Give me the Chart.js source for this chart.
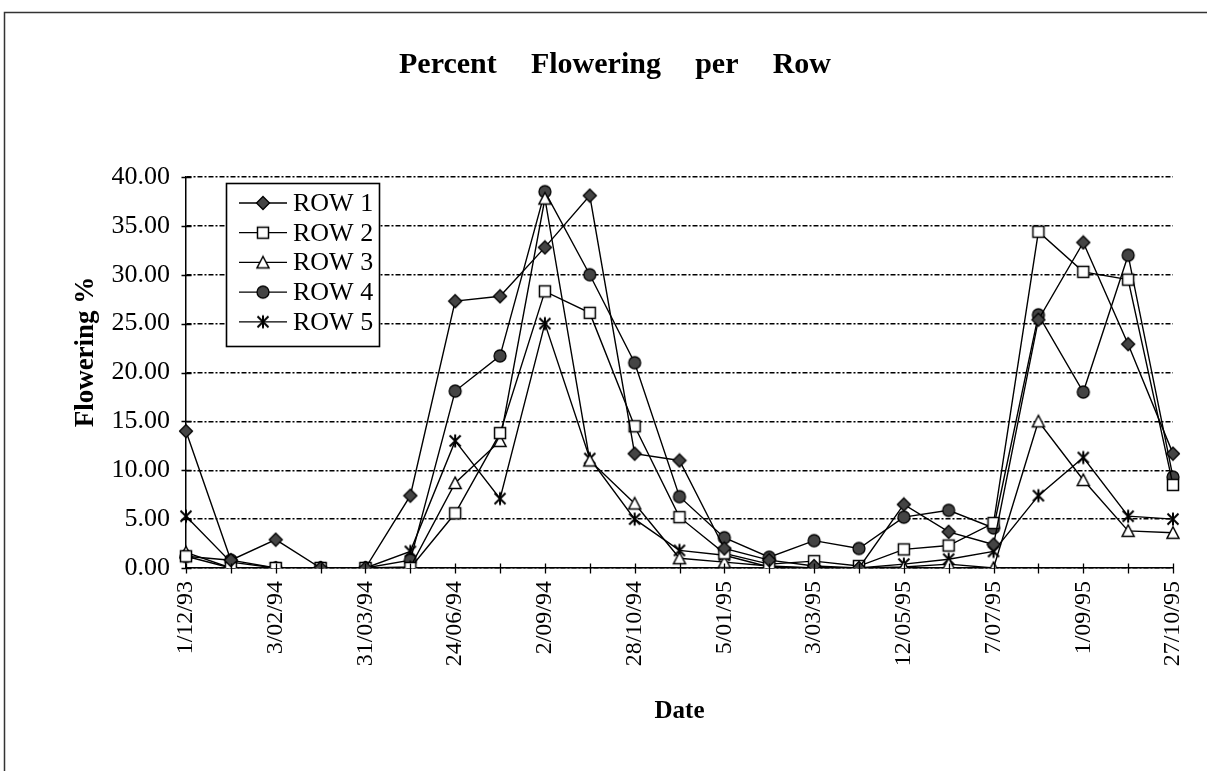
<!DOCTYPE html>
<html>
<head>
<meta charset="utf-8">
<script src="https://cdn.jsdelivr.net/npm/chart.js@4/dist/chart.umd.min.js"></script>
<style>
html,body{margin:0;padding:0;background:#fff;}
canvas{display:block;}
</style>
</head>
<body>
<canvas id="c" width="1207" height="771"></canvas>
<script>
// ---- data ----
const dates = ['1/12/93','','3/02/94','','31/03/94','','24/06/94','','2/09/94','','28/10/94','',
               '5/01/95','','3/03/95','','12/05/95','','7/07/95','','1/09/95','','27/10/95'];
const seriesNames = ['ROW 1','ROW 2','ROW 3','ROW 4','ROW 5'];
const row1 = [14.0,0.8,2.9,0,0,7.4,27.3,27.8,32.8,38.1,11.7,11.0,2.0,0.8,0.2,0,6.5,3.7,2.4,25.4,33.3,22.9,11.7];
const row2 = [1.2,0,0,0,0,0,5.6,13.8,28.3,26.1,14.5,5.2,1.5,0.4,0.7,0.2,1.9,2.3,4.6,34.4,30.3,29.5,8.5];
const row3 = [1.6,0,0,0,0,0.1,8.7,13.0,37.8,11.0,6.6,1.0,0.6,0.2,0,0,0.1,0.4,0,15.0,9.0,3.8,3.6];
const row4 = [1.2,0.8,0,0,0,0.8,18.1,21.7,38.5,30.0,21.0,7.3,3.1,1.1,2.8,2.0,5.2,5.9,4.1,25.9,18.0,32.0,9.3];
const row5 = [5.3,0.6,0,0,0,1.7,13.0,7.1,25.0,11.2,5.0,1.8,1.3,0.1,0,0,0.4,0.9,1.7,7.4,11.3,5.3,5.0];
const yTicks = [0,5,10,15,20,25,30,35,40];
const titleText = 'Percent Flowering per Row';
const yTitle = 'Flowering %';
const xTitle = 'Date';

// ---- markers ----
function makeMarker(type){
  const c = document.createElement('canvas');
  c.width = 16; c.height = 16;
  const g = c.getContext('2d');
  g.strokeStyle = '#000'; g.lineWidth = 1.3;
  g.beginPath();
  if (type === 'diamond'){
    g.moveTo(8,1.5); g.lineTo(14.5,8); g.lineTo(8,14.5); g.lineTo(1.5,8); g.closePath();
    g.fillStyle = '#444'; g.fill(); g.stroke();
  } else if (type === 'square'){
    g.rect(2.5,2.5,11,11); g.fillStyle = '#fff'; g.fill(); g.lineWidth = 1.5; g.stroke();
  } else if (type === 'triangle'){
    g.moveTo(8,2); g.lineTo(14,13.5); g.lineTo(2,13.5); g.closePath();
    g.fillStyle = '#fff'; g.fill(); g.lineWidth = 1.5; g.stroke();
  } else if (type === 'circle'){
    g.arc(8,8,6,0,Math.PI*2); g.fillStyle = '#444'; g.fill(); g.stroke();
  } else if (type === 'star'){
    g.lineWidth = 2;
    g.moveTo(2.5,2.5); g.lineTo(13.5,13.5);
    g.moveTo(13.5,2.5); g.lineTo(2.5,13.5);
    g.moveTo(8,1.5); g.lineTo(8,14.5);
    g.stroke();
  }
  return c;
}
const markers = ['diamond','square','triangle','circle','star'].map(makeMarker);
const seriesData = [row1,row2,row3,row4,row5];

const serif = "'Liberation Serif','Times New Roman',serif";

const framePlugin = {
  id: 'frame',
  beforeDraw(chart){
    const ctx = chart.ctx;
    ctx.save();
    ctx.fillStyle = '#fff';
    ctx.fillRect(0,0,chart.width,chart.height);
    ctx.strokeStyle = '#333';
    ctx.lineWidth = 1.5;
    ctx.beginPath();
    ctx.moveTo(4.5, 771); ctx.lineTo(4.5, 12.5); ctx.lineTo(1207, 12.5);
    ctx.stroke();
    ctx.restore();
  },
  afterDraw(chart){
    const ctx = chart.ctx;
    const xs = chart.scales.x, ys = chart.scales.y;
    ctx.save();

    // chart title (wide word spacing as in the original)
    ctx.fillStyle = '#000';
    ctx.font = "bold 30px " + serif;
    ctx.textAlign = 'center';
    ctx.textBaseline = 'middle';
    if ('wordSpacing' in ctx) {
      ctx.wordSpacing = '0px';
      const w = ctx.measureText(titleText).width;
      const extra = Math.max(0, (432 - w) / 3);
      ctx.wordSpacing = extra + 'px';
    }
    ctx.fillText(titleText, 615, 65);
    if ('wordSpacing' in ctx) ctx.wordSpacing = '0px';

    // y axis title
    ctx.save();
    ctx.translate(86, 352);
    ctx.rotate(-Math.PI / 2);
    ctx.font = "bold 27px " + serif;
    ctx.fillText(yTitle, 0, 0);
    ctx.restore();

    // tick marks crossing the axes
    ctx.strokeStyle = '#000';
    ctx.lineWidth = 1.3;
    ctx.beginPath();
    const x0 = Math.round(xs.left) + 0.5;
    yTicks.forEach(v => {
      const y = Math.round(ys.getPixelForValue(v)) + 0.5;
      ctx.moveTo(x0 - 5, y); ctx.lineTo(x0 + 5, y);
    });
    const y0 = Math.round(ys.bottom) + 0.5;
    dates.forEach((d, i) => {
      const x = Math.round(xs.getPixelForValue(i)) + 0.5;
      ctx.moveTo(x, y0 - 5); ctx.lineTo(x, y0 + 5);
    });
    ctx.stroke();

    // legend box
    const lx = 226.5, ly = 183.5, lw = 153, lh = 163;
    ctx.fillStyle = '#fff';
    ctx.fillRect(lx, ly, lw, lh);
    ctx.lineWidth = 1.6;
    ctx.strokeRect(lx, ly, lw, lh);
    ctx.font = "26px " + serif;
    ctx.textBaseline = 'middle';
    ctx.textAlign = 'left';
    ctx.fillStyle = '#000';
    seriesNames.forEach((name, i) => {
      const y = 203 + i * 29.7;
      ctx.lineWidth = 1.3;
      ctx.beginPath();
      ctx.moveTo(239, y); ctx.lineTo(287, y);
      ctx.stroke();
      ctx.drawImage(markers[i], 263 - 8, y - 8);
      ctx.fillText(name, 293, y + 1);
    });
    ctx.restore();
  }
};

const datasets = seriesNames.map((name, i) => ({
  label: name,
  data: seriesData[i],
  borderColor: '#000',
  borderWidth: 1.4,
  backgroundColor: '#000',
  pointStyle: markers[i],
  pointRadius: 6,
  fill: false,
  tension: 0
}));

new Chart(document.getElementById('c'), {
  type: 'line',
  data: { labels: dates, datasets },
  plugins: [framePlugin],
  options: {
    responsive: false,
    animation: false,
    devicePixelRatio: 1,
    events: [],
    layout: { padding: { top: 177, left: 0, right: 34, bottom: 0 } },
    plugins: {
      legend: { display: false },
      tooltip: { enabled: false },
      title: { display: false }
    },
    scales: {
      x: {
        type: 'category',
        offset: false,
        grid: { display: false },
        border: { display: true, color: '#000', width: 1.5 },
        ticks: {
          autoSkip: false, maxRotation: 90, minRotation: 90,
          color: '#000', padding: 5,
          font: { family: serif, size: 24 }
        },
        title: {
          display: true, text: xTitle, color: '#000',
          font: { family: serif, size: 25, weight: 'bold' },
          padding: { top: 0, bottom: 44 }
        },
        afterFit(scale){ scale.height = 203; }
      },
      y: {
        min: 0, max: 40,
        afterBuildTicks(scale){ scale.ticks = yTicks.map(v => ({ value: v })); },
        ticks: {
          color: '#000', padding: 16,
          font: { family: serif, size: 26 },
          callback: v => Number(v).toFixed(2)
        },
        grid: { color: '#000', lineWidth: 1.4, drawTicks: false, drawOnChartArea: true },
        border: { display: true, color: '#000', width: 1.5, dash: [5,2,2,2] },
        title: { display: false },
        afterFit(scale){ scale.width = 186; }
      }
    }
  }
});
</script>
</body>
</html>
